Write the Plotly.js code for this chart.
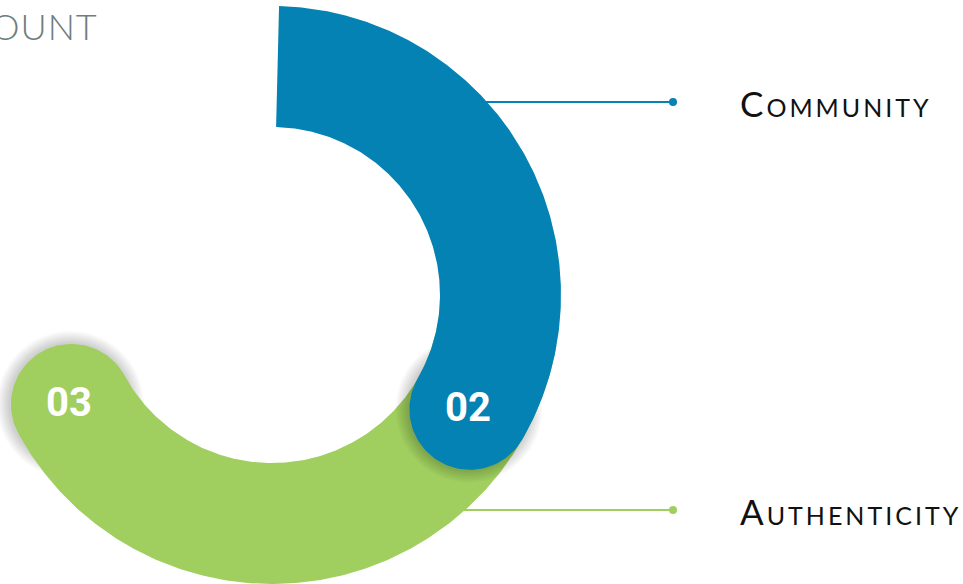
<!DOCTYPE html>
<html>
<head>
<meta charset="utf-8">
<script src="https://cdn.plot.ly/plotly-3.0.1.min.js"></script>
<style>html,body{margin:0;padding:0;background:#fff;}#chart{width:963px;height:584px;}</style>
</head>
<body>
<div id="chart"></div>
<script>
// ---- data ----
const numbers = ["02", "03"];
const labels = ["Community", "Authenticity"];
const startDeg = [1.4, 100];      // clockwise from 12 o'clock
const endDeg = [120, 241.4];
const colors = ["#0482B3", "#A0CF60"];
const headerText = "OUNT";

// ---- geometry (pixel space) ----
const W = 963, H = 584;
const CX = 272, CY = 295, RIN = 168, ROUT = 289;
const RMID = (RIN + ROUT) / 2, RCAP = (ROUT - RIN) / 2;
const rad = d => d * Math.PI / 180;

function arcPoly(a0, a1) {
  const xs = [], ys = [], N = 240;
  for (let i = 0; i <= N; i++) {
    const a = rad(a0 + (a1 - a0) * i / N);
    xs.push(CX + ROUT * Math.sin(a)); ys.push(CY - ROUT * Math.cos(a));
  }
  const e = rad(a1);
  const cx = CX + RMID * Math.sin(e), cy = CY - RMID * Math.cos(e);
  const u = [Math.sin(e), -Math.cos(e)], t = [Math.cos(e), Math.sin(e)];
  for (let i = 0; i <= 60; i++) {
    const p = Math.PI * i / 60;
    xs.push(cx + RCAP * (Math.cos(p) * u[0] + Math.sin(p) * t[0]));
    ys.push(cy + RCAP * (Math.cos(p) * u[1] + Math.sin(p) * t[1]));
  }
  for (let i = N; i >= 0; i--) {
    const a = rad(a0 + (a1 - a0) * i / N);
    xs.push(CX + RIN * Math.sin(a)); ys.push(CY - RIN * Math.cos(a));
  }
  return {xs, ys, cx, cy};
}
function circle(cx, cy, r) {
  const xs = [], ys = [];
  for (let i = 0; i <= 90; i++) { const p = 2 * Math.PI * i / 90; xs.push(cx + r * Math.cos(p)); ys.push(cy + r * Math.sin(p)); }
  return {xs, ys};
}

const traces = [];
const annotations = [];
const leaderY = [102, 510];
const leaderX0 = [470, 440];
const dotX = 673;
const labelX = 740;

// draw in order: green (index 1) below, blue (index 0) on top
[1, 0].forEach(k => {
  const poly = arcPoly(startDeg[k], endDeg[k]);
  traces.push({type: "scatter", mode: "lines", x: [leaderX0[k], dotX], y: [leaderY[k], leaderY[k]],
    line: {color: colors[k], width: 2}, hoverinfo: "skip", showlegend: false});
  traces.push({type: "scatter", mode: "markers", x: [dotX], y: [leaderY[k]],
    marker: {color: colors[k], size: 8}, hoverinfo: "skip", showlegend: false});
  for (let s = 1; s <= 8; s++) {
    const c = circle(poly.cx - 1, poly.cy, RCAP + s * 1.6);
    traces.push({type: "scatter", mode: "lines", x: c.xs, y: c.ys, fill: "toself",
      fillcolor: "rgba(0,0,0,0.022)", line: {width: 0}, hoverinfo: "skip", showlegend: false});
  }
  traces.push({type: "scatter", mode: "lines", x: poly.xs, y: poly.ys, fill: "toself",
    fillcolor: colors[k], line: {width: 0, color: colors[k]}, hoverinfo: "skip", showlegend: false});
  annotations.push({x: poly.cx - 2, y: poly.cy - 2, xref: "x", yref: "y", text: "<b>" + numbers[k] + "</b>",
    showarrow: false, xanchor: "center", yanchor: "middle",
    font: {family: "Roboto", size: 40, color: "#ffffff"}});
  annotations.push({x: labelX, y: leaderY[k] + 1, xref: "x", yref: "y", text: labels[k],
    showarrow: false, xanchor: "left", yanchor: "middle",
    font: {family: "Lato", size: 35, color: "#111111", variant: "small-caps"}});
});

annotations.push({x: -9 / W, y: 1 - 26 / H, xref: "paper", yref: "paper", text: headerText, showarrow: false,
  xanchor: "left", yanchor: "middle", font: {family: "Lato", size: 36, weight: 300, color: "#6f7d7e"}});

const layout = {
  width: W, height: H, autosize: false,
  margin: {l: 0, r: 0, t: 0, b: 0, pad: 0},
  paper_bgcolor: "#ffffff", plot_bgcolor: "#ffffff",
  xaxis: {range: [0, W], visible: false, fixedrange: true},
  yaxis: {range: [H, 0], visible: false, fixedrange: true},
  showlegend: false,
  annotations: annotations
};
Plotly.newPlot("chart", traces, layout, {staticPlot: true, displayModeBar: false}).then(gd => {
  const svgRoot = gd.querySelector("svg.main-svg");
  gd.querySelectorAll("text.annotation-text").forEach(t => {
    const txt = t.textContent;
    let left = null;
    if (labels.includes(txt)) { t.style.letterSpacing = "3px"; left = labelX; }
    if (txt === headerText) { t.style.letterSpacing = "1px"; left = -9; }
    if (left !== null) {
      t.setAttribute("text-anchor", "start");
      const before = t.getBoundingClientRect();
      const rootBox = gd.getBoundingClientRect();
      const dx = left - (before.left - rootBox.left);
      const x0 = parseFloat(t.getAttribute("x") || "0");
      t.setAttribute("x", x0 + dx);
      t.querySelectorAll("tspan[x]").forEach(s => s.setAttribute("x", parseFloat(s.getAttribute("x")) + dx));
    }
  });
});
</script>
</body>
</html>
